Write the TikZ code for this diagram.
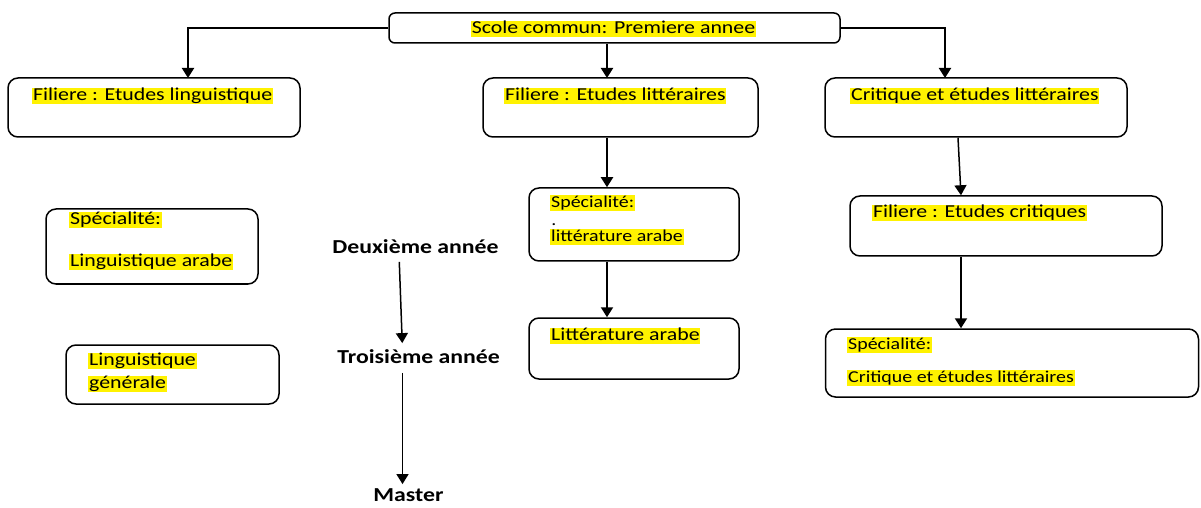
\documentclass[tikz,border=0pt]{standalone}
\usepackage{fontspec}
\setmainfont{Carlito}[FakeStretch=1.2]
\usetikzlibrary{arrows.meta, positioning}

\newcommand{\bigtxt}{\fontsize{9.1}{11}\selectfont}
\newcommand{\smalltxt}{\fontsize{8.3}{10}\selectfont}
\newcommand{\yeartxt}{\fontsize{9.9}{12}\selectfont\bfseries}

\tikzset{
	box/.style={draw, rounded corners=5pt, line width=0.75pt, inner sep=0pt},
	hl/.style={fill=yellow, inner xsep=0.4pt, inner ysep=0pt, text height=0.64em, text depth=0.2em, anchor=west, font=\bigtxt},
	hlsmall/.style={hl, font=\smalltxt},
	year/.style={anchor=west, inner sep=0pt, text height=0.65em, text depth=0pt, font=\yeartxt},
	link/.style={->, line width=1pt},
	thinlink/.style={->, line width=0.75pt}
}

\begin{document}
\begin{tikzpicture}[x=0.5pt, y=-0.5pt, >={Triangle[width=6pt,length=5pt]}]
		\useasboundingbox (0,0) rectangle (1201,508);
		% boxes
		\node[box, rounded corners=3pt, minimum width=225.5pt, minimum height=15pt] (top) at (614.5,28) {};
		\node[box, minimum width=146pt, minimum height=29.5pt] (b1) at (154,107.5) {};
		\node[box, minimum width=137.5pt, minimum height=29.5pt] (b2) at (620.5,107.5) {};
		\node[box, minimum width=151pt, minimum height=29.5pt] (b3) at (976,107.5) {};
		\node[box, minimum width=105pt, minimum height=36.5pt] (b4) at (634,224.5) {};
		\node[box, minimum width=105pt, minimum height=30.5pt] (b5) at (634,348.5) {};
		\node[box, minimum width=156pt, minimum height=30pt] (b6) at (1006,226) {};
		\node[box, minimum width=186.5pt, minimum height=34pt] (b7) at (1012,363) {};
		\node[box, minimum width=106pt, minimum height=37.5pt] (b8) at (152,246.5) {};
		\node[box, minimum width=106.5pt, minimum height=29.5pt] (b9) at (172.5,374.5) {};
		% texts
		\node[hl, anchor=center] (ttop) at (613.5,29) {Scole commun: Premiere annee};
		\node[hl] (t1) at (32,96) {Filiere : Etudes linguistique};
		\node[hl] (t2) at (504,96) {Filiere : Etudes littéraires};
		\node[hl] (t3) at (850,96) {Critique et études littéraires};
		\node[hlsmall] (t4a) at (550,203) {Spécialité:};
		\node[anchor=west, inner sep=0pt, font=\smalltxt] (t4dot) at (551,225) {.};
		\node[hlsmall] (t4b) at (550,237) {littérature arabe};
		\node[hl] (t5) at (550,336) {Littérature arabe};
		\node[hl] (t6) at (872,213) {Filiere : Etudes critiques};
		\node[hlsmall] (t7a) at (847,345) {Spécialité:};
		\node[hlsmall] (t7b) at (847,378) {Critique et études littéraires};
		\node[hl] (t8a) at (69,220) {Spécialité:};
		\node[hl] (t8b) at (69,262) {Linguistique arabe};
		\node[hl] (t9a) at (88,361) {Linguistique};
		\node[hl] (t9b) at (88,384) {générale};
		% years
		\node[year] (y2) at (332,247) {Deuxième année};
		\node[year] (y3) at (337,357) {Troisième année};
		\node[year] (ym) at (373,495) {Master};
		% connectors
		\coordinate (a1) at (188,78);
		\coordinate (a2) at (607,78);
		\coordinate (a3) at (945,78);
		\coordinate (s3) at (958,0);
		\coordinate (s6) at (961,0);
		\coordinate (k1) at (399,0);
		\coordinate (k2) at (402.5,0);
		\draw[link] (top.west) -| (a1);
		\draw[link] (a2 |- top.south) -- (a2);
		\draw[link] (top.east) -| (a3);
		\draw[link] (a2 |- b2.south) -- (a2 |- b4.north);
		\draw[link] (a2 |- b4.south) -- (a2 |- b5.north);
		\draw[thinlink] (s3 |- b3.south) -- (s6 |- b6.north);
		\draw[link] (s6 |- b6.south) -- (s6 |- b7.north);
		\draw[thinlink, shorten <=4pt, shorten >=3.5pt] (y2.south -| k1) -- (y3.north -| k2);
		\draw[thinlink, shorten <=4.5pt, shorten >=2pt] (y3.south -| k2) -- (ym.north -| k2);
	\end{tikzpicture}
\end{document}
